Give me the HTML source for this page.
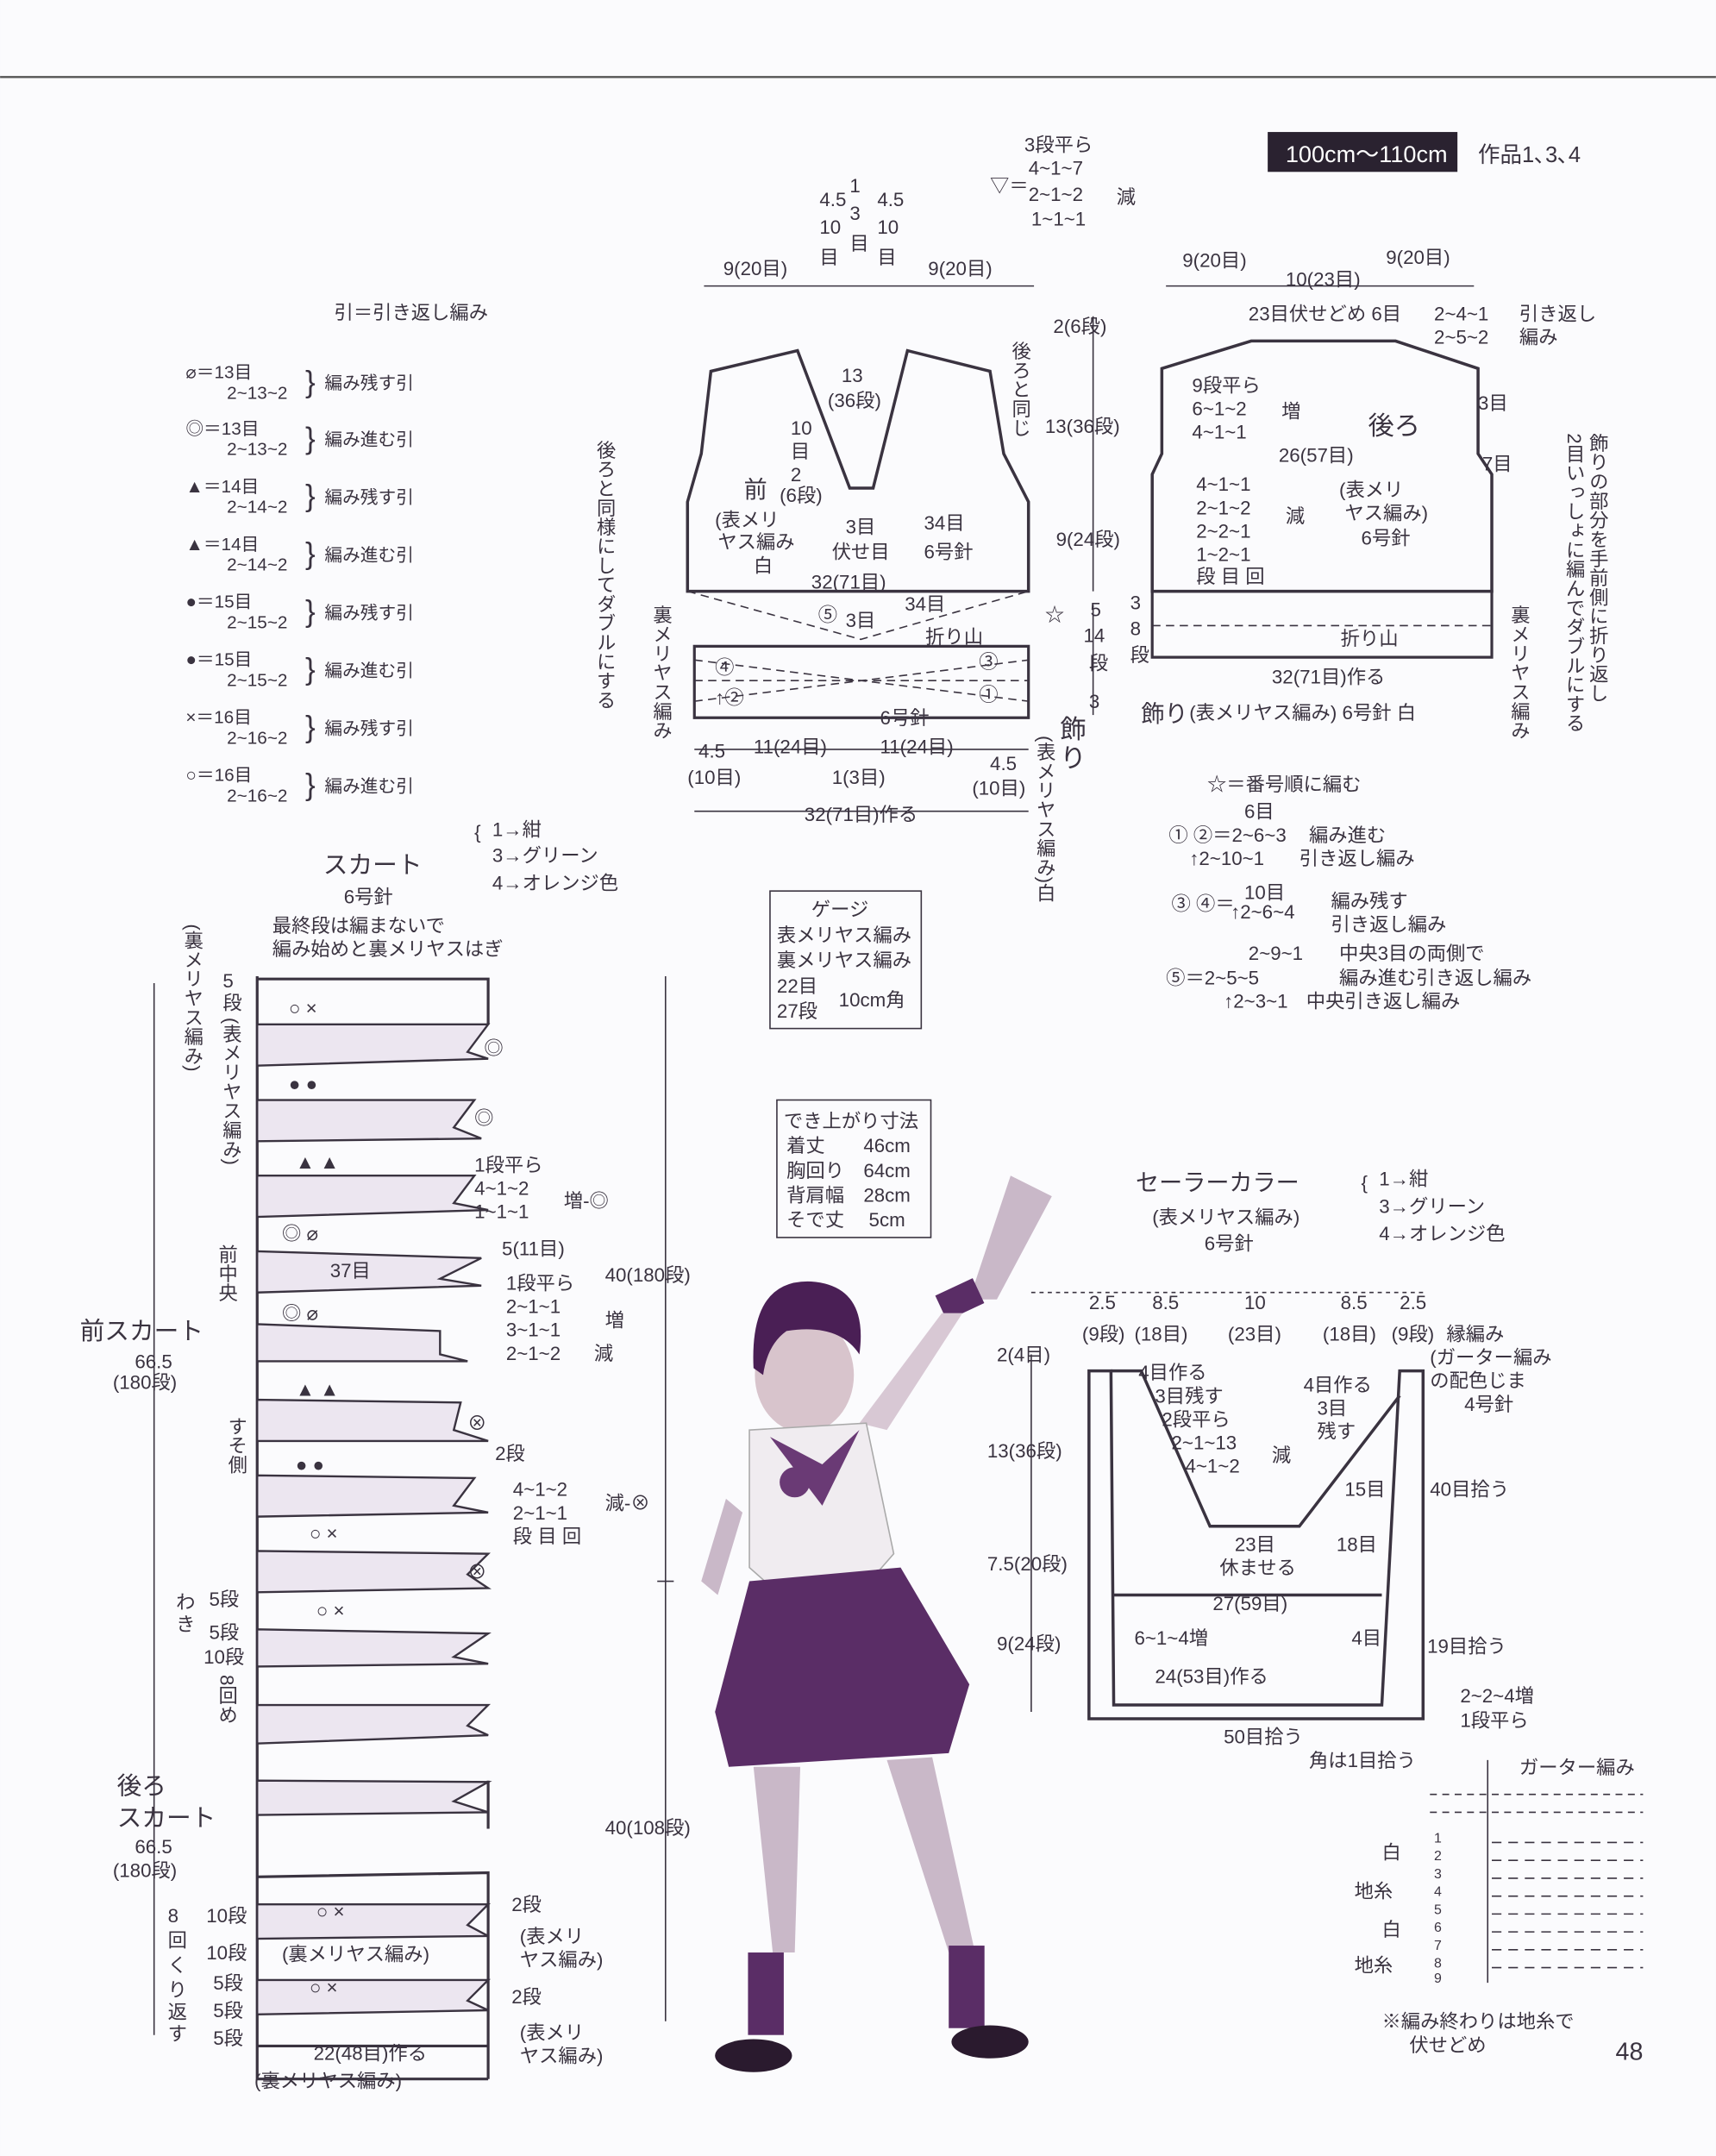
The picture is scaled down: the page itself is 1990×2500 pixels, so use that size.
<!DOCTYPE html>
<html><head><meta charset="utf-8">
<style>
html,body{margin:0;padding:0;background:#fbfbfd;}
svg{display:block}
text{font-family:"Liberation Sans","Noto Sans CJK JP",sans-serif;fill:#3a3340;}
</style></head><body>
<svg width="1990" height="2500" viewBox="0 0 1248 1568" xmlns="http://www.w3.org/2000/svg">
<rect width="1248" height="1568" fill="#fbfbfd"/>
<line x1="0" y1="56" x2="1248" y2="56" stroke="#555" stroke-width="1.5"/>
<rect x="922" y="96" width="138" height="29" fill="#2a2230"/>
<text x="935" y="118" font-size="17" style="fill:#fff">100cm～110cm</text>
<text x="1075" y="118" font-size="16">作品1､3､4</text>

<!-- dimension lines -->
<g stroke="#3a3340" stroke-width="1" fill="none">
<line x1="512" y1="208" x2="752" y2="208"/><line x1="848" y1="208" x2="1072" y2="208"/>
<line x1="795" y1="230" x2="795" y2="430"/><line x1="795" y1="440" x2="795" y2="520"/>
<line x1="505" y1="545" x2="748" y2="545"/><line x1="505" y1="590" x2="748" y2="590"/>
<line x1="750" y1="940" x2="1035" y2="940" stroke-dasharray="3 3"/>
<line x1="750" y1="985" x2="750" y2="1245"/>
<line x1="484" y1="710" x2="484" y2="1470"/><line x1="478" y1="1150" x2="490" y2="1150"/><line x1="112" y1="715" x2="112" y2="1480"/>
<line x1="1082" y1="1280" x2="1082" y2="1442"/>
</g>

<text x="243" y="232" font-size="14">引＝引き返し編み</text>
<g font-size="13">
<text x="135" y="275">⌀＝13目</text><text x="165" y="290">2~13~2</text><text x="222" y="285" font-size="22">}</text><text x="236" y="283">編み残す引</text>
<text x="135" y="316">◎＝13目</text><text x="165" y="331">2~13~2</text><text x="222" y="326" font-size="22">}</text><text x="236" y="324">編み進む引</text>
<text x="135" y="358">▲＝14目</text><text x="165" y="373">2~14~2</text><text x="222" y="368" font-size="22">}</text><text x="236" y="366">編み残す引</text>
<text x="135" y="400">▲＝14目</text><text x="165" y="415">2~14~2</text><text x="222" y="410" font-size="22">}</text><text x="236" y="408">編み進む引</text>
<text x="135" y="442">●＝15目</text><text x="165" y="457">2~15~2</text><text x="222" y="452" font-size="22">}</text><text x="236" y="450">編み残す引</text>
<text x="135" y="484">●＝15目</text><text x="165" y="499">2~15~2</text><text x="222" y="494" font-size="22">}</text><text x="236" y="492">編み進む引</text>
<text x="135" y="526">×＝16目</text><text x="165" y="541">2~16~2</text><text x="222" y="536" font-size="22">}</text><text x="236" y="534">編み残す引</text>
<text x="135" y="568">○＝16目</text><text x="165" y="583">2~16~2</text><text x="222" y="578" font-size="22">}</text><text x="236" y="576">編み進む引</text>
</g>

<g stroke="#3a3340" fill="none" stroke-width="2.2">
<path d="M517 270 L580 255 L618 355 L635 355 L660 255 L720 270 L730 330 L748 365 L748 430 L500 430 L500 365 L510 330 Z"/>
<path d="M505 470 L748 470 L748 522 L505 522 Z" stroke-width="2"/>
<path d="M845 268 L910 248 L1015 248 L1075 268 L1075 330 L1085 345 L1085 430 L838 430 L838 345 L845 330 Z"/>
<path d="M838 430 L1085 430 L1085 478 L838 478 Z" stroke-width="2"/>
</g>
<g stroke="#3a3340" fill="none" stroke-width="1" stroke-dasharray="6 4">
<path d="M500 430 L626 465 L748 430"/><path d="M505 495 L748 495"/><path d="M505 480 L748 510"/><path d="M505 510 L748 480"/>
<path d="M838 455 L1085 455"/>
</g>
<g font-size="14">
<text x="745" y="110">3段平ら</text><text x="748" y="127">4~1~7</text><text x="748" y="146">2~1~2</text><text x="750" y="164">1~1~1</text><text x="720" y="140">▽＝</text><text x="812" y="148">減</text>
<text x="596" y="150">4.5</text><text x="618" y="140">1</text><text x="638" y="150">4.5</text>
<text x="596" y="170">10</text><text x="618" y="160">3</text><text x="638" y="170">10</text>
<text x="596" y="192">目</text><text x="618" y="182">目</text><text x="638" y="192">目</text>
<text x="526" y="200">9(20目)</text><text x="675" y="200">9(20目)</text>
<text x="860" y="194">9(20目)</text><text x="935" y="208">10(23目)</text><text x="1008" y="192">9(20目)</text>
<text x="766" y="242">2(6段)</text><text x="760" y="315">13(36段)</text><text x="768" y="397">9(24段)</text>
<text x="612" y="278">13</text><text x="602" y="296">(36段)</text>
<text x="575" y="316">10</text><text x="575" y="333">目</text><text x="575" y="350">2</text>
<text x="541" y="362" font-size="17">前</text><text x="567" y="365">(6段)</text>
<text x="520" y="383">(表メリ</text><text x="522" y="399">ヤス編み</text><text x="548" y="416">白</text>
<text x="615" y="388">3目</text><text x="605" y="406">伏せ目</text><text x="672" y="385">34目</text><text x="672" y="406">6号針</text>
<text x="590" y="428">32(71目)</text>
<text x="595" y="452">⑤</text><text x="615" y="456">3目</text><text x="658" y="444">34目</text>
<text x="673" y="468">折り山</text><text x="712" y="486">③</text><text x="712" y="510">①</text>
<text x="520" y="490">④</text><text x="520" y="512">↑②</text><text x="640" y="527">6号針</text>
<text x="508" y="551">4.5</text><text x="548" y="548">11(24目)</text><text x="605" y="570">1(3目)</text><text x="640" y="548">11(24目)</text><text x="720" y="560">4.5</text>
<text x="500" y="570">(10目)</text><text x="707" y="578">(10目)</text>
<text x="585" y="597">32(71目)作る</text>
<text x="760" y="452">☆</text><text x="793" y="448">5</text><text x="788" y="467">14</text><text x="792" y="487">段</text><text x="792" y="515">3</text>
<text x="822" y="443">3</text><text x="822" y="462">8</text><text x="822" y="481">段</text>
<text x="908" y="233">23目伏せどめ 6目</text><text x="1043" y="233">2~4~1</text><text x="1043" y="250">2~5~2</text><text x="1105" y="233">引き返し</text><text x="1105" y="250">編み</text>
<text x="867" y="285">9段平ら</text><text x="867" y="302">6~1~2</text><text x="867" y="319">4~1~1</text><text x="932" y="304">増</text>
<text x="995" y="316" font-size="19">後ろ</text><text x="1075" y="298">3目</text><text x="1078" y="342">7目</text>
<text x="930" y="336">26(57目)</text>
<text x="870" y="357">4~1~1</text><text x="870" y="374">2~1~2</text><text x="870" y="391">2~2~1</text><text x="870" y="408">1~2~1</text><text x="870" y="424">段 目 回</text><text x="935" y="380">減</text>
<text x="974" y="361">(表メリ</text><text x="978" y="378">ヤス編み)</text><text x="990" y="396">6号針</text>
<text x="975" y="469">折り山</text><text x="925" y="497">32(71目)作る</text>
<text x="830" y="525" font-size="17">飾り</text><text x="865" y="523">(表メリヤス編み) 6号針 白</text>
<text x="878" y="575">☆＝番号順に編む</text><text x="905" y="595">6目</text>
<text x="850" y="612">① ②＝2~6~3</text><text x="952" y="612">編み進む</text><text x="865" y="629">↑2~10~1</text><text x="945" y="629">引き返し編み</text>
<text x="852" y="662">③ ④＝</text><text x="905" y="654">10目</text><text x="895" y="668">↑2~6~4</text><text x="968" y="660">編み残す</text><text x="968" y="677">引き返し編み</text>
<text x="908" y="698">2~9~1</text><text x="974" y="698">中央3目の両側で</text><text x="848" y="716">⑤＝2~5~5</text><text x="974" y="716">編み進む引き返し編み</text><text x="890" y="733">↑2~3~1</text><text x="950" y="733">中央引き返し編み</text>
</g>
<g font-size="14">
<text x="742" y="248" style="writing-mode:vertical-rl">後ろと同じ</text>
<text x="440" y="320" style="writing-mode:vertical-rl">後ろと同様にしてダブルにする</text>
<text x="481" y="440" style="writing-mode:vertical-rl">裏メリヤス編み</text>
<text x="1162" y="315" style="writing-mode:vertical-rl">飾りの部分を手前側に折り返し</text>
<text x="1145" y="315" style="writing-mode:vertical-rl">2目いっしょに編んでダブルにする</text>
<text x="1105" y="440" style="writing-mode:vertical-rl">裏メリヤス編み</text>
<text x="760" y="535" style="writing-mode:vertical-rl">(表メリヤス編み)白</text>
<text x="140" y="672" style="writing-mode:vertical-rl">(裏メリヤス編み)</text>
<text x="168" y="740" style="writing-mode:vertical-rl">(表メリヤス編み)</text>
<text x="165" y="905" style="writing-mode:vertical-rl">前中央</text>
<text x="172" y="1030" style="writing-mode:vertical-rl">すそ側</text>
<text x="165" y="1218" style="writing-mode:vertical-rl">8回め</text>
</g>
<text x="771" y="537" font-size="19">飾</text><text x="771" y="558" font-size="19">り</text>

<g stroke="#3a3340" stroke-width="2" fill="none">
<path d="M187 710 L187 1512 L355 1512"/>
<path d="M187 712 L355 712 L355 745"/>
</g>
<g stroke="#3a3340" stroke-width="1.5" fill="#ece6f0">
<path d="M187 745 L355 745 L340 765 L355 770 L187 775Z"/>
<path d="M187 800 L345 800 L330 820 L350 828 L187 830Z"/>
<path d="M187 855 L345 855 L330 875 L355 880 L187 885Z"/>
<path d="M187 910 L350 915 L320 930 L350 935 L187 940Z"/>
<path d="M187 963 L320 968 L320 985 L340 990 L187 990Z"/>
<path d="M187 1018 L335 1020 L330 1040 L355 1048 L187 1048Z"/>
<path d="M187 1073 L345 1075 L330 1095 L355 1100 L187 1103Z"/>
<path d="M187 1128 L355 1130 L340 1145 L355 1155 L187 1158Z"/>
<path d="M187 1185 L355 1188 L330 1205 L355 1210 L187 1212Z"/>
<path d="M187 1240 L355 1240 L340 1255 L355 1262 L187 1268Z"/>
<path d="M187 1295 L355 1296 L330 1310 L355 1318 L187 1320Z"/>
<path d="M187 1385 L355 1385 L340 1400 L355 1408 L187 1410Z"/>
<path d="M187 1440 L355 1440 L340 1455 L355 1462 L187 1465Z"/>
</g>
<g stroke="#3a3340" stroke-width="2" fill="none">
<path d="M187 1365 L355 1362 L355 1512"/><path d="M355 1330 L355 1295"/>
<line x1="187" y1="1488" x2="355" y2="1488"/>
</g>
<g font-size="14">
<text x="235" y="635" font-size="18">スカート</text><text x="250" y="657">6号針</text>
<text x="345" y="610">{</text><text x="358" y="608">1→紺</text><text x="358" y="627">3→グリーン</text><text x="358" y="647">4→オレンジ色</text>
<text x="198" y="678">最終段は編まないで</text><text x="198" y="695">編み始めと裏メリヤスはぎ</text>
<text x="162" y="718">5</text><text x="162" y="734">段</text>
<text x="240" y="929">37目</text>
<text x="345" y="852">1段平ら</text><text x="345" y="869">4~1~2</text><text x="345" y="886">1~1~1</text><text x="410" y="878">増-◎</text>
<text x="365" y="913">5(11目)</text>
<text x="368" y="938">1段平ら</text><text x="368" y="955">2~1~1</text><text x="368" y="972">3~1~1</text><text x="368" y="989">2~1~2</text><text x="440" y="965">増</text><text x="432" y="989">減</text>
<text x="360" y="1062">2段</text><text x="373" y="1088">4~1~2</text><text x="373" y="1105">2~1~1</text><text x="373" y="1122">段 目 回</text><text x="440" y="1098">減-⊗</text>
<text x="58" y="974" font-size="18">前スカート</text><text x="98" y="995">66.5</text><text x="82" y="1010">(180段)</text>
<text x="85" y="1305" font-size="18">後ろ</text><text x="85" y="1328" font-size="18">スカート</text><text x="98" y="1348">66.5</text><text x="82" y="1365">(180段)</text>
<text x="440" y="932">40(180段)</text><text x="440" y="1334">40(108段)</text>
<text x="152" y="1168">5段</text><text x="152" y="1192">5段</text><text x="148" y="1210">10段</text><text x="128" y="1170">わ</text><text x="128" y="1186">き</text>
<text x="150" y="1398">10段</text><text x="150" y="1425">10段</text><text x="155" y="1447">5段</text><text x="155" y="1467">5段</text><text x="155" y="1487">5段</text>
<text x="122" y="1398">8</text><text x="122" y="1416">回</text><text x="122" y="1434">く</text><text x="122" y="1452">り</text><text x="122" y="1468">返</text><text x="122" y="1484">す</text>
<text x="205" y="1426">(裏メリヤス編み)</text>
<text x="228" y="1498">22(48目)作る</text><text x="185" y="1518">(裏メリヤス編み)</text>
<text x="372" y="1390">2段</text><text x="378" y="1413">(表メリ</text><text x="378" y="1430">ヤス編み)</text>
<text x="372" y="1457">2段</text><text x="378" y="1483">(表メリ</text><text x="378" y="1500">ヤス編み)</text>
<text x="210" y="738">○ ×</text><text x="210" y="793">● ●</text><text x="215" y="850">▲ ▲</text><text x="205" y="902">◎ ⌀</text><text x="205" y="960">◎ ⌀</text><text x="215" y="1015">▲ ▲</text><text x="215" y="1070">● ●</text><text x="225" y="1120">○ ×</text><text x="230" y="1176">○ ×</text><text x="230" y="1395">○ ×</text><text x="225" y="1450">○ ×</text>
<text x="352" y="767">◎</text><text x="345" y="818">◎</text><text x="340" y="1040">⊗</text><text x="340" y="1148">⊗</text>
</g>

<rect x="560" y="648" width="110" height="100" fill="none" stroke="#3a3340"/>
<g font-size="14"><text x="590" y="666">ゲージ</text><text x="565" y="685">表メリヤス編み</text><text x="565" y="703">裏メリヤス編み</text><text x="565" y="722">22目</text><text x="565" y="740">27段</text><text x="610" y="732">10cm角</text>
<text x="570" y="820">でき上がり寸法</text><text x="572" y="838">着丈　　46cm</text><text x="572" y="856">胸回り　64cm</text><text x="572" y="874">背肩幅　28cm</text><text x="572" y="892">そで丈　 5cm</text></g>
<rect x="565" y="800" width="112" height="100" fill="none" stroke="#3a3340"/>

<!-- girl -->
<g>
<path d="M735 855 L765 870 L725 945 L705 945 Z" fill="#c9b8c8"/>
<rect x="683" y="935" width="30" height="20" fill="#5a2d66" transform="rotate(-25 698 945)"/>
<path d="M700 955 L645 1040 L625 1035 L685 955Z" fill="#d8c8d4"/>
<ellipse cx="585" cy="1000" rx="36" ry="42" fill="#d8c4cc"/>
<path d="M548 995 Q545 930 590 932 Q632 935 625 985 Q610 962 572 968 Q558 978 555 1000Z" fill="#4a1f55"/>
<path d="M545 1040 L630 1035 L650 1130 L615 1170 L590 1180 L545 1140 Z" fill="#f0ecf0" stroke="#aaa" stroke-width="1"/>
<path d="M560 1045 L598 1095 L625 1040 L598 1065Z" fill="#6a3a75"/>
<circle cx="578" cy="1078" r="11" fill="#6a3a75"/>
<path d="M545 1150 L655 1140 L705 1225 L690 1275 L530 1285 L520 1245 Z" fill="#5a2d66"/>
<path d="M548 1285 L562 1420 L578 1420 L582 1285Z" fill="#c9b8c8"/>
<path d="M645 1280 L690 1420 L708 1415 L678 1278Z" fill="#c9b8c8"/>
<rect x="544" y="1420" width="26" height="60" fill="#5a2d66"/>
<rect x="690" y="1415" width="26" height="60" fill="#5a2d66"/>
<ellipse cx="548" cy="1495" rx="28" ry="12" fill="#2a1a2e"/>
<ellipse cx="720" cy="1485" rx="28" ry="12" fill="#2a1a2e"/>
<path d="M528 1090 L510 1150 L522 1160 L540 1100Z" fill="#c9b8c8"/>
</g>

<g stroke="#3a3340" stroke-width="2.2" fill="none">
<path d="M792 997 L792 1250 L1035 1250 L1035 997 L1018 997 L1005 1240 L810 1240 L808 997Z"/>
<path d="M808 997 L830 997 L880 1110 L945 1110 L1018 1015"/>
<path d="M810 1160 L1005 1160"/>
</g>
<g font-size="14">
<text x="826" y="866" font-size="17">セーラーカラー</text><text x="838" y="890">(表メリヤス編み)</text><text x="876" y="909">6号針</text>
<text x="990" y="865">{</text><text x="1003" y="862">1→紺</text><text x="1003" y="882">3→グリーン</text><text x="1003" y="902">4→オレンジ色</text>
<text x="792" y="952">2.5</text><text x="838" y="952">8.5</text><text x="905" y="952">10</text><text x="975" y="952">8.5</text><text x="1018" y="952">2.5</text>
<text x="787" y="975">(9段)</text><text x="825" y="975">(18目)</text><text x="893" y="975">(23目)</text><text x="962" y="975">(18目)</text><text x="1012" y="975">(9段)</text>
<text x="1052" y="975">縁編み</text><text x="1040" y="992">(ガーター編み</text><text x="1040" y="1009">の配色じま</text><text x="1065" y="1026">4号針</text>
<text x="725" y="990">2(4目)</text><text x="718" y="1060">13(36段)</text><text x="718" y="1142">7.5(20段)</text><text x="725" y="1200">9(24段)</text>
<text x="828" y="1003">4目作る</text><text x="840" y="1020">3目残す</text><text x="845" y="1037">2段平ら</text><text x="852" y="1054">2~1~13</text><text x="862" y="1071">4~1~2</text><text x="925" y="1063">減</text>
<text x="948" y="1012">4目作る</text><text x="958" y="1029">3目</text><text x="958" y="1046">残す</text><text x="978" y="1088">15目</text><text x="972" y="1128">18目</text>
<text x="1040" y="1088">40目拾う</text><text x="898" y="1128">23目</text><text x="887" y="1145">休ませる</text>
<text x="882" y="1171">27(59目)</text><text x="825" y="1196">6~1~4増</text><text x="983" y="1196">4目</text><text x="1038" y="1202">19目拾う</text>
<text x="840" y="1224">24(53目)作る</text><text x="890" y="1268">50目拾う</text><text x="952" y="1285">角は1目拾う</text>
<text x="1062" y="1238">2~2~4増</text><text x="1062" y="1256">1段平ら</text>
<text x="1105" y="1290">ガーター編み</text>
<text x="1005" y="1352">白</text><text x="985" y="1380">地糸</text><text x="1005" y="1408">白</text><text x="985" y="1434">地糸</text>
<text x="1005" y="1475">※編み終わりは地糸で</text><text x="1025" y="1492">伏せどめ</text>
<text x="1175" y="1498" font-size="18" font-family="Liberation Serif">48</text>
</g>
<g stroke="#3a3340" stroke-width="1" fill="none">
<line x1="1040" y1="1305" x2="1195" y2="1305" stroke-dasharray="5 4"/>
<line x1="1040" y1="1318" x2="1195" y2="1318" stroke-dasharray="5 4"/>
<g stroke-dasharray="7 5">
<line x1="1085" y1="1340" x2="1195" y2="1340"/><line x1="1085" y1="1353" x2="1195" y2="1353"/><line x1="1085" y1="1366" x2="1195" y2="1366"/><line x1="1085" y1="1379" x2="1195" y2="1379"/><line x1="1085" y1="1392" x2="1195" y2="1392"/><line x1="1085" y1="1405" x2="1195" y2="1405"/><line x1="1085" y1="1418" x2="1195" y2="1418"/><line x1="1085" y1="1431" x2="1195" y2="1431"/>
</g>
</g>
<g font-size="10">
<text x="1043" y="1340">1</text><text x="1043" y="1353">2</text><text x="1043" y="1366">3</text><text x="1043" y="1379">4</text><text x="1043" y="1392">5</text><text x="1043" y="1405">6</text><text x="1043" y="1418">7</text><text x="1043" y="1431">8</text><text x="1043" y="1442">9</text>
</g>
</svg>
</body></html>
